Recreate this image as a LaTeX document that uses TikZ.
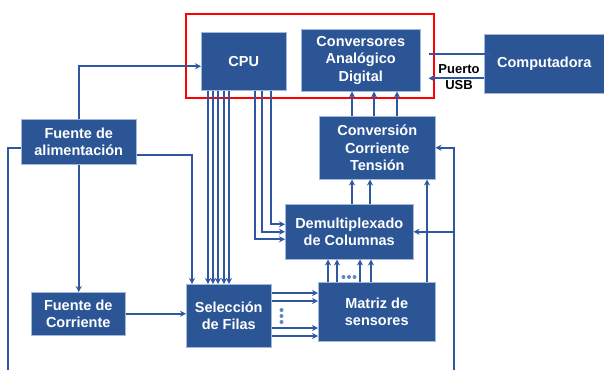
\documentclass[tikz,border=0pt]{standalone}
\usepackage{fontspec}
\setmainfont{Liberation Sans}
\usetikzlibrary{arrows.meta,calc}
\definecolor{boxblue}{RGB}{44,85,150}
\definecolor{lineblue}{RGB}{48,88,160}
\definecolor{dotblue}{RGB}{95,134,196}
\begin{document}
\begin{tikzpicture}[x=1pt,y=-1pt,
  blk/.style={anchor=north west,fill=boxblue,draw={rgb,255:red,160;green,185;blue,220},line width=0.5pt,
    inner sep=0pt,align=center,text=white,font=\bfseries\fontsize{14.5}{17.5}\selectfont},
  arr/.style={draw=lineblue,line width=1.8pt,-{Stealth[length=6pt,width=6pt]}},
  ln/.style={draw=lineblue,line width=1.8pt},
  dot/.style={fill=dotblue,draw=none}]
\useasboundingbox (0,0) rectangle (604,370);
% red frame
\node[anchor=north west,draw=red,line width=1.6pt,minimum width=248pt,minimum height=84pt,inner sep=0pt] (frame) at (185,13) {};
% boxes
\node[blk,minimum width=85pt,minimum height=58pt] (cpu) at (201,32) {CPU};
\node[blk,minimum width=119pt,minimum height=62pt] (adc) at (301,29) {Conversores\\Analógico\\Digital};
\node[blk,minimum width=120pt,minimum height=59pt] (comp) at (484,34) {Computadora};
\node[blk,minimum width=116pt,minimum height=63pt] (cct) at (319,116) {Conversión\\Corriente\\Tensión};
\node[blk,minimum width=128pt,minimum height=55pt] (demux) at (285,204) {Demultiplexado\\de Columnas};
\node[blk,minimum width=117pt,minimum height=59pt] (matriz) at (318,282) {Matriz de\\sensores};
\node[blk,minimum width=85pt,minimum height=63pt] (sel) at (186,284) {Selección\\de Filas};
\node[blk,minimum width=94pt,minimum height=43pt] (fcorr) at (31,292) {Fuente de\\Corriente};
\node[blk,minimum width=115pt,minimum height=45pt] (falim) at (21,119) {Fuente de\\alimentación};
% free ends
\coordinate (bl) at (8,370);
\coordinate (br) at (454,370);
% power supply connections
\draw[arr] (falim.north) |- ([yshift=-5pt]cpu.west);
\draw[arr] (falim.south) -- (falim.south |- fcorr.north);
\draw[arr] ([yshift=-13.5pt]falim.east) -| ([xshift=6pt]sel.north west);
\draw[ln] ([yshift=-6.5pt]falim.west) -| (bl);
% current source to row selection
\draw[arr] (fcorr.east) -- (fcorr.east -| sel.west);
% CPU to row selection
\foreach \dx in {7,12,17,23,28}
  \draw[arr] ([xshift=\dx pt]cpu.south west) -- ([xshift=\dx pt]cpu.south west |- sel.north);
% CPU to demux
\draw[arr] ([xshift=54pt]cpu.south west) |- ([yshift=-7.5pt]demux.west);
\draw[arr] ([xshift=61pt]cpu.south west) |- ([yshift=0pt]demux.west);
\draw[arr] ([xshift=70pt]cpu.south west) |- ([yshift=7.5pt]demux.west);
% ADC <-> computer
\draw[arr] ([shift={(8pt,6pt)}]adc.east) -- ([shift={(8pt,6pt)}]adc.east -| comp.west);
\draw[arr] ([yshift=-18pt]adc.east -| comp.west) -- coordinate[pos=0.45] (usbmid) ([shift={(8pt,-18pt)}]adc.east);
\node[font=\bfseries\fontsize{13}{16}\selectfont,align=center,inner sep=0pt] (usb) at ([yshift=1pt]usbmid) {Puerto\\USB};
% CCT to ADC
\foreach \dx in {33,55,78}
  \draw[arr] ([xshift=\dx pt]cct.north west) -- ([xshift=\dx pt]cct.north west |- adc.south);
% demux to CCT
\foreach \dx in {67,85}
  \draw[arr] ([xshift=\dx pt]demux.north west) -- ([xshift=\dx pt]demux.north west |- cct.south);
% matrix to CCT
\draw[arr] ([xshift=109pt]matriz.north west) -- ([xshift=109pt]matriz.north west |- cct.south);
% matrix to demux
\foreach \dx in {10,19,42,53}
  \draw[arr] ([xshift=\dx pt]matriz.north west) -- ([xshift=\dx pt]matriz.north west |- demux.south);
\foreach \dx in {25.5,31,36.5}
  \fill[dot] ([shift={(\dx pt,5pt)}]matriz.north west) circle (2pt);
% right vertical line into CCT and demux
\draw[arr] (br) |- (cct.east);
\draw[arr] (br |- demux.east) -- (demux.east);
% row selection to matrix
\foreach \dy in {9,17,44,52}
  \draw[arr] ([yshift=-\dy pt]sel.north east) -- ([yshift=-\dy pt]sel.north east -| matriz.west);
\foreach \dy in {26,32,38}
  \fill[dot] ([shift={(10pt,-\dy pt)}]sel.north east) circle (2pt);
\end{tikzpicture}
\end{document}
